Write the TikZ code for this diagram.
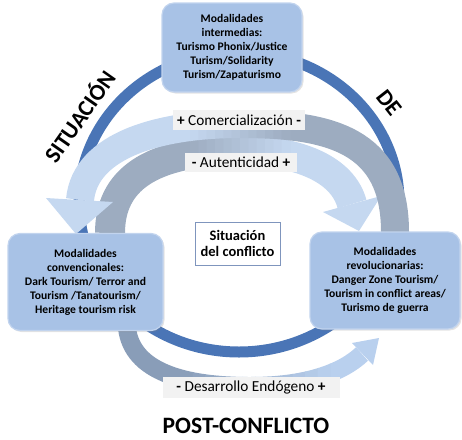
\documentclass[tikz,border=0pt]{standalone}
\usepackage{fontspec}
\setmainfont{Carlito}
\usetikzlibrary{shadows}
\definecolor{ringblue}{HTML}{4A75B6}
\definecolor{lightarr}{HTML}{C5D8F0}
\definecolor{greyarr}{HTML}{9DACC0}
\definecolor{greyarrC}{HTML}{899DB8}
\definecolor{lightarrC}{HTML}{B9D0EE}
\definecolor{boxfill}{HTML}{A8C2E6}
\definecolor{boxrim}{HTML}{C2D4EE}
\definecolor{labelbg}{HTML}{F2F2F2}
\definecolor{sitborder}{HTML}{7F95BD}
\newcommand\bandstroke[6]{%
  \begin{scope}\clip (-10,-10) rectangle (#5+0.5,450); \draw[line width=#2, color=#3] #1; \end{scope}
  \begin{scope}\clip (#6-0.5,-10) rectangle (470,450); \draw[line width=#2, color=#4] #1; \end{scope}
  \foreach \k in {0,...,11}{%
    \pgfmathsetmacro\xa{#5+(#6-#5)*\k/12}%
    \pgfmathsetmacro\xb{#5+(#6-#5)*(\k+1)/12+0.6}%
    \pgfmathsetmacro\pc{100-100*(\k+0.5)/12}%
    \begin{scope}\clip (\xa,-10) rectangle (\xb,450); \draw[line width=#2, color=#3!\pc!#4] #1; \end{scope}
  }%
}
\begin{document}
\begin{tikzpicture}[x=1pt,y=-1pt,
  modbox/.style={rounded corners=12pt, fill=boxfill, draw=boxrim, line width=1.2pt, align=center,
    inner sep=1pt, font=\bfseries\fontsize{11.6}{14}\selectfont,
    drop shadow={opacity=0.22, shadow xshift=1.5pt, shadow yshift=-1.5pt}},
  lbl/.style={fill=labelbg, inner sep=0pt, font=\fontsize{15.3}{17}\selectfont},
  bigword/.style={font=\bfseries\fontsize{23}{25}\selectfont},
  ring/.style={draw=ringblue, line width=11pt}]
\useasboundingbox (0,0) rectangle (462,439);

% dark ring
\coordinate (ringc) at (239,202);
\draw[ring] (ringc) ellipse [x radius=160, y radius=150];

% arrow C (bottom)
\coordinate (C0) at (127,328);
\coordinate (C1) at (132,372);
\coordinate (C2) at (185,386);
\coordinate (C3) at (250,386);
\coordinate (C4) at (305,386);
\coordinate (C5) at (342,373);
\coordinate (C6) at (362,354);
\bandstroke{(C0) .. controls (C1) and (C2) .. (C3) .. controls (C4) and (C5) .. (C6)}{18pt}{greyarrC}{lightarrC}{180}{330}
\coordinate (ChL) at (352,343);
\coordinate (ChR) at (373,365);
\coordinate (ChT) at (379,338);
\fill[lightarrC] (ChL) -- (ChT) -- (ChR) -- cycle;

% arrow B (inner)
\coordinate (B0) at (110,233);
\coordinate (B1) at (110,180);
\coordinate (B2) at (150,152);
\coordinate (B3) at (235,150);
\coordinate (B4) at (300,150);
\coordinate (B5) at (343,170);
\coordinate (B6) at (352,204);
\bandstroke{(B0) .. controls (B1) and (B2) .. (B3) .. controls (B4) and (B5) .. (B6)}{30pt}{greyarr}{lightarr}{190}{290}
\coordinate (BhL) at (323,212);
\coordinate (BhR) at (381,196);
\coordinate (BhT) at (359,231);
\fill[lightarr] (BhL) -- (BhT) -- (BhR) -- cycle;

% arrow A (outer)
\coordinate (A0) at (395,232);
\coordinate (A1) at (395,140);
\coordinate (A2) at (330,124);
\coordinate (A3) at (240,124);
\coordinate (A4) at (160,124);
\coordinate (A5) at (85,145);
\coordinate (A6) at (80,200);
\bandstroke{(A0) .. controls (A1) and (A2) .. (A3) .. controls (A4) and (A5) .. (A6)}{28pt}{lightarr}{greyarr}{190}{290}
\coordinate (AhL) at (46,198);
\coordinate (AhR) at (113,202);
\coordinate (AhT) at (76,234);
\fill[lightarr] (AhL) -- (AhT) -- (AhR) -- cycle;

% labels on arrows
\node[lbl, minimum width=132pt, minimum height=20pt] (com) at (239,120) {\textbf{+} Comercialización \textbf{-}};
\node[lbl, minimum width=112pt, minimum height=19pt] (aut) at (241,162.5) {\textbf{-} Autenticidad \textbf{+}};
\node[lbl, minimum width=177pt, minimum height=21pt] (des) at (251,387.5) {\textbf{-} Desarrollo Endógeno \textbf{+}};

% boxes
\node[modbox, minimum width=140pt, minimum height=89pt] (top) at (232,47.5)
  {Modalidades\\intermedias:\\Turismo Phonix/Justice\\Turism/Solidarity\\Turism/Zapaturismo};
\node[modbox, minimum width=155pt, minimum height=97pt] (left) at (85.5,282)
  {Modalidades\\convencionales:\\Dark Tourism/ Terror and\\Tourism /Tanatourism/\\Heritage tourism risk};
\node[modbox, minimum width=150pt, minimum height=97pt] (right) at (385,280.5)
  {Modalidades\\revolucionarias:\\Danger Zone Tourism/\\Tourism in conflict areas/\\Turismo de guerra};
\node[draw=sitborder, line width=0.8pt, fill=white, align=center, minimum width=85pt, minimum height=43pt,
  inner sep=1pt, font=\bfseries\fontsize{14.5}{15.5}\selectfont] (sit) at (237.5,243.5) {Situación\\del conflicto};

% big words
\node[bigword, rotate=55] (w1) at (79,116) {SITUACIÓN};
\node[bigword, rotate=-52] (w2) at (389,103) {DE};
\node[font=\bfseries\fontsize{23.5}{25}\selectfont, inner sep=0pt] (w3) at (246,426) {POST-CONFLICTO};
\end{tikzpicture}
\end{document}
